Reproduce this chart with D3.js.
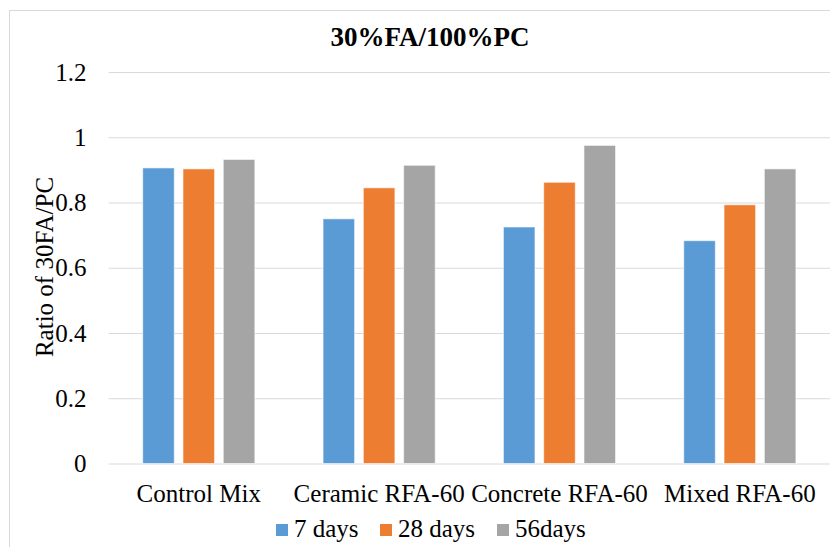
<!DOCTYPE html>
<html>
<head>
<meta charset="utf-8">
<script src="https://cdn.jsdelivr.net/npm/d3@7"></script>
<style>
  body { margin: 0; background: #fff; }
  text { font-family: "Liberation Serif", "Times New Roman", serif; fill: #000; }
</style>
</head>
<body>
<svg id="chart"></svg>
<script>
// data
const categories = ['Control Mix', 'Ceramic RFA-60', 'Concrete RFA-60', 'Mixed RFA-60'];
const seriesNames = ['7 days', '28 days', '56days'];
const days7 = [0.906, 0.750, 0.725, 0.683];
const days28 = [0.903, 0.845, 0.862, 0.793];
const days56 = [0.932, 0.914, 0.975, 0.903];
const yTicks = [0, 0.2, 0.4, 0.6, 0.8, 1, 1.2];
const colors = ['#5B9BD5', '#ED7D31', '#A5A5A5'];

const seriesValues = [days7, days28, days56];

const config = {
  width: 830,
  height: 547,
  margin: {top: 72, right: 0, bottom: 83.5, left: 108.6},
  font: '"Liberation Serif", "Times New Roman", serif'
};

const svg = d3.select('#chart')
    .attr('width', config.width)
    .attr('height', config.height);

// chart frame
svg.append('rect')
    .attr('x', 9.5)
    .attr('y', 10.5)
    .attr('width', config.width)
    .attr('height', config.height)
    .attr('fill', 'none')
    .attr('stroke', '#d9d9d9');

const innerW = config.width - config.margin.left - config.margin.right;
const innerH = config.height - config.margin.top - config.margin.bottom;

const g = svg.append('g')
    .attr('transform', `translate(${config.margin.left},${config.margin.top})`);

const x0 = d3.scaleBand()
    .domain(categories)
    .range([0, innerW])
    .padding(0);

const x1 = d3.scaleBand()
    .domain(seriesNames)
    .range([0, x0.bandwidth()])
    .paddingInner(0.216)
    .paddingOuter(0.846);

const y = d3.scaleLinear()
    .domain([0, 1.2])
    .range([innerH, 0]);

// gridlines + tick labels
const yAxis = d3.axisLeft(y)
    .tickValues(yTicks)
    .tickSize(-innerW)
    .tickPadding(22)
    .tickFormat(d => d3.format('')(+d.toFixed(1)));

const yg = g.append('g').call(yAxis);
yg.select('.domain').remove();
yg.selectAll('.tick line')
    .attr('stroke', '#d9d9d9')
    .attr('stroke-width', 1);
yg.selectAll('.tick text')
    .attr('font-size', '25px')
    .attr('font-family', config.font)
    .attr('fill', '#000');

// bars
const rows = categories.map((c, i) => ({cat: c, vals: seriesValues.map((s, j) => ({name: seriesNames[j], value: s[i], k: j}))}));

g.selectAll('.group')
    .data(rows)
    .join('g')
    .attr('class', 'group')
    .attr('transform', d => `translate(${x0(d.cat)},0)`)
  .selectAll('rect')
    .data(d => d.vals)
    .join('rect')
    .attr('x', d => x1(d.name))
    .attr('width', x1.bandwidth())
    .attr('y', d => y(d.value))
    .attr('height', d => innerH - y(d.value))
    .attr('fill', d => colors[d.k])
    .attr('stroke', '#ffffff')
    .attr('stroke-opacity', 0.6)
    .attr('stroke-width', 1);

// category labels
const xAxis = d3.axisBottom(x0).tickSize(0).tickPadding(21);
const xg = g.append('g')
    .attr('transform', `translate(0,${innerH})`)
    .call(xAxis);
xg.select('.domain').remove();
xg.selectAll('.tick text')
    .attr('font-size', '25px')
    .attr('font-family', config.font)
    .attr('fill', '#000');

// title
svg.append('text')
    .attr('x', 430)
    .attr('y', 46)
    .attr('text-anchor', 'middle')
    .attr('font-size', '27px')
    .attr('font-weight', 'bold')
    .text('30%FA/100%PC');

// y axis title
svg.append('text')
    .attr('transform', `translate(53,267) rotate(-90)`)
    .attr('text-anchor', 'middle')
    .attr('font-size', '25px')
    .text('Ratio of 30FA/PC');

// legend
const legendX = [276, 380, 497];
const legend = svg.append('g')
    .selectAll('g')
    .data(seriesNames)
    .join('g')
    .attr('transform', (d, i) => `translate(${legendX[i]},524)`);

legend.append('rect')
    .attr('width', 12)
    .attr('height', 12)
    .attr('fill', (d, i) => colors[i]);

legend.append('text')
    .attr('x', 18)
    .attr('y', 13)
    .attr('font-size', '25px')
    .text(d => d);
</script>
</body>
</html>
